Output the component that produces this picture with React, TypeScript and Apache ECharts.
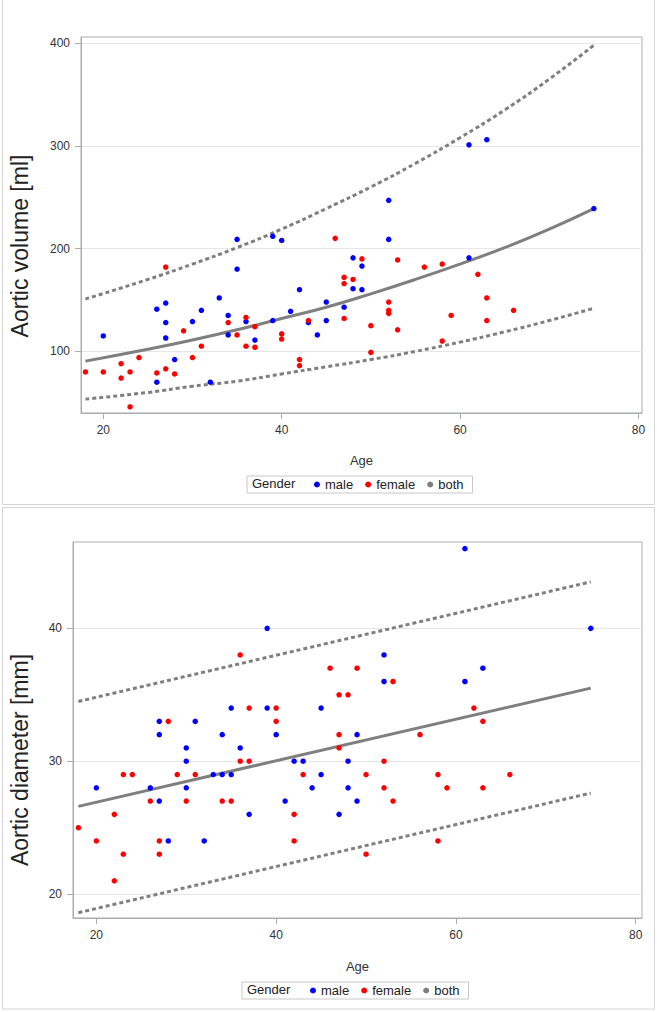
import { useEffect, useRef } from "react";
import * as echarts from "echarts";

// ---- Data: aortic volume [ml] vs age ----
const volumeMale: number[][] = [
  [20, 115], [26, 141], [26, 70], [27, 147], [27, 128], [27, 113], [28, 92], [30, 129],
  [31, 140], [32, 70], [33, 152], [34, 135], [34, 116], [35, 209], [35, 180], [36, 129],
  [37, 111], [39, 130], [39, 212], [40, 208], [41, 139], [42, 160], [43, 128], [44, 116],
  [45, 148], [45, 130], [47, 143], [48, 191], [48, 161], [49, 183], [49, 160], [52, 247],
  [52, 209], [61, 301], [61, 191], [63, 306], [75, 239],
];
const volumeFemale: number[][] = [
  [18, 80], [20, 80], [22, 88], [22, 74], [23, 80], [23, 46], [24, 94], [26, 79],
  [27, 182], [27, 83], [28, 78], [29, 120], [30, 94], [31, 105], [34, 128], [35, 116],
  [36, 133], [36, 105], [37, 124], [37, 104], [40, 117], [40, 112], [42, 92], [42, 86],
  [43, 130], [46, 210], [47, 172], [47, 166], [47, 132], [48, 170], [49, 190], [50, 125],
  [50, 99], [52, 148], [52, 140], [52, 137], [53, 189], [53, 121], [56, 182], [58, 185],
  [58, 110], [59, 135], [62, 175], [63, 152], [63, 130], [66, 140],
];
const volumeFitAges = [18, 25, 30, 35, 40, 45, 50, 55, 60, 65, 70, 75];
const volumeFit = [90.5, 102, 111, 121, 132, 143, 156, 170, 185, 201, 219, 239];
const volumeUpper = [151, 170, 185, 201, 219, 239, 260, 283, 308, 335, 365, 398];
const volumeLower = [53.5, 60, 66, 71, 78, 85, 92, 100, 109, 119, 130, 142];

// ---- Data: aortic diameter [mm] vs age ----
const diameterMale: number[][] = [
  [20, 28], [26, 28], [27, 33], [27, 32], [27, 27], [28, 24], [30, 31], [30, 30],
  [30, 28], [31, 33], [32, 24], [33, 29], [34, 32], [34, 29], [35, 34], [35, 29],
  [36, 31], [37, 26], [39, 40], [39, 34], [40, 32], [41, 27], [42, 30], [43, 30],
  [44, 28], [45, 34], [45, 29], [47, 26], [48, 30], [48, 28], [49, 32], [49, 27],
  [52, 38], [52, 36], [61, 46], [61, 36], [63, 37], [75, 40],
];
const diameterFemale: number[][] = [
  [18, 25], [20, 24], [22, 26], [22, 21], [23, 29], [23, 23], [24, 29], [26, 27],
  [27, 24], [27, 23], [28, 33], [29, 29], [30, 27], [31, 29], [34, 27], [35, 27],
  [36, 38], [36, 30], [37, 34], [37, 30], [40, 34], [40, 33], [42, 26], [42, 24],
  [43, 29], [46, 37], [47, 35], [47, 32], [47, 31], [48, 35], [49, 37], [50, 29],
  [50, 23], [52, 30], [52, 28], [53, 36], [53, 27], [56, 32], [58, 29], [58, 24],
  [59, 28], [62, 34], [63, 33], [63, 28], [66, 29],
];
const diameterFitAges = [18, 75];
const diameterFit = [26.6, 35.5];
const diameterUpper = [34.5, 43.5];
const diameterLower = [18.6, 27.6];

// ---- Ticks / labels ----
const ageTicks = [20, 40, 60, 80];
const volumeTicks = [100, 200, 300, 400];
const diameterTicks = [20, 30, 40];
const legendNames = ["male", "female", "both"];
const legendTitle = "Gender";

const FONT = "'Liberation Sans', Arial, sans-serif";
const FRAME = "#a8acb0";
const GRIDLINE = "#e6e6e6";
const FIT = "#7f7f7f";

const zip = (xs: number[], ys: number[]) => xs.map((x, i) => [x, ys[i]]);

function xAxisCfg(gridIndex: number, min: number, max: number, nameGap: number) {
  return {
    type: "value",
    gridIndex,
    min,
    max,
    name: "Age",
    nameLocation: "middle",
    nameGap,
    nameTextStyle: { fontSize: 13, color: "#333", fontFamily: FONT },
    axisLine: { show: true, lineStyle: { color: FRAME } },
    axisTick: { show: true, length: 6, customValues: ageTicks, lineStyle: { color: FRAME } },
    axisLabel: { customValues: ageTicks, fontSize: 12, color: "#333", margin: 11, fontFamily: FONT },
    splitLine: { show: false },
  };
}

function yAxisCfg(gridIndex: number, min: number, max: number, ticks: number[], name: string, nameGap: number, shift: number) {
  return {
    type: "value",
    gridIndex,
    min,
    max,
    name,
    nameLocation: "middle",
    nameGap,
    nameTextStyle: { fontSize: 23, color: "#222", fontFamily: FONT, padding: [0, shift, 0, 0] },
    axisLine: { show: true, lineStyle: { color: FRAME } },
    axisTick: { show: true, length: 6, customValues: ticks, lineStyle: { color: FRAME } },
    axisLabel: { customValues: ticks, fontSize: 12, color: "#333", margin: 11, fontFamily: FONT },
    splitLine: { show: true, lineStyle: { color: GRIDLINE, width: 1 } },
  };
}

function scatter(name: string, color: string, data: number[][], idx: number) {
  return {
    type: "scatter",
    name,
    xAxisIndex: idx,
    yAxisIndex: idx,
    data,
    symbol: "circle",
    symbolSize: 5.5,
    itemStyle: { color, opacity: 1 },
    z: 5,
  };
}

function fitLine(data: number[][], idx: number, dashed: boolean, smooth: boolean) {
  return {
    type: "line",
    name: "both",
    xAxisIndex: idx,
    yAxisIndex: idx,
    data,
    smooth,
    symbol: "none",
    itemStyle: { color: FIT },
    lineStyle: dashed
      ? { color: FIT, width: 3, type: [4, 3], cap: "butt" }
      : { color: FIT, width: 3 },
    z: 3,
  };
}

function legendCfg(left: number, top: number, padLeft: number) {
  return {
    left,
    top,
    data: legendNames,
    icon: "circle",
    itemWidth: 6,
    itemHeight: 6,
    itemGap: 12,
    padding: [1, 9, 1, padLeft],
    borderColor: "#c8c8c8",
    borderWidth: 1,
    backgroundColor: "#fff",
    selectedMode: false,
    textStyle: { fontSize: 13, color: "#222", fontFamily: FONT, lineHeight: 15 },
  };
}

export default function App() {
  const ref = useRef<HTMLDivElement>(null);
  useEffect(() => {
    if (!ref.current) return;
    const chart = echarts.init(ref.current, null, { renderer: "svg" });
    chart.setOption({
      animation: false,
      backgroundColor: "#ffffff",
      textStyle: { fontFamily: FONT },
      grid: [
        { left: 76, top: 37, width: 566, height: 376, show: true, borderColor: FRAME, borderWidth: 1, backgroundColor: "transparent" },
        { left: 68, top: 542, width: 574, height: 376, show: true, borderColor: FRAME, borderWidth: 1, backgroundColor: "transparent" },
      ],
      xAxis: [xAxisCfg(0, 17.5, 80.4, 41), xAxisCfg(1, 17.4, 80.7, 42)],
      yAxis: [
        yAxisCfg(0, 40, 406, volumeTicks, "Aortic volume [ml]", 50, 42),
        yAxisCfg(1, 18.2, 46.5, diameterTicks, "Aortic diameter [mm]", 42, 60),
      ],
      legend: [legendCfg(247, 476, 67), legendCfg(242, 982, 68)],
      graphic: [
        { type: "rect", shape: { x: 2.5, y: -1, width: 652, height: 505.5 }, style: { fill: "none", stroke: "#d4d4d4", lineWidth: 1 }, silent: true },
        { type: "rect", shape: { x: 2.5, y: 507.5, width: 652, height: 501.5 }, style: { fill: "none", stroke: "#d4d4d4", lineWidth: 1 }, silent: true },
        { type: "text", left: 252, top: 477, style: { text: legendTitle, fontSize: 13, fill: "#222", fontFamily: FONT }, z: 10 },
        { type: "text", left: 247, top: 983, style: { text: legendTitle, fontSize: 13, fill: "#222", fontFamily: FONT }, z: 10 },
      ],
      series: [
        fitLine(zip(volumeFitAges, volumeFit), 0, false, true),
        fitLine(zip(volumeFitAges, volumeUpper), 0, true, true),
        fitLine(zip(volumeFitAges, volumeLower), 0, true, true),
        scatter("male", "#0000ff", volumeMale, 0),
        scatter("female", "#ff0000", volumeFemale, 0),
        fitLine(zip(diameterFitAges, diameterFit), 1, false, false),
        fitLine(zip(diameterFitAges, diameterUpper), 1, true, false),
        fitLine(zip(diameterFitAges, diameterLower), 1, true, false),
        scatter("male", "#0000ff", diameterMale, 1),
        scatter("female", "#ff0000", diameterFemale, 1),
      ],
    });
    return () => chart.dispose();
  }, []);
  return (
    <div
      ref={ref}
      style={{ position: "absolute", left: 0, top: 0, width: 657, height: 1012, background: "#fff" }}
    />
  );
}
